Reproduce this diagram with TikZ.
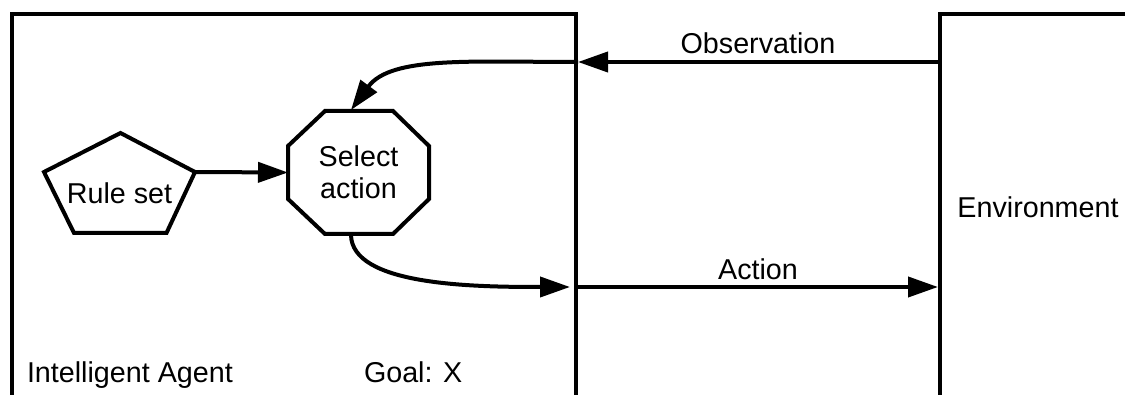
\documentclass[tikz,border=0pt]{standalone}
\usepackage{fontspec}
\setmainfont{Liberation Sans}
\usetikzlibrary{positioning, arrows.meta}

\begin{document}
\begin{tikzpicture}[
  x=0.5pt, y=0.5pt,
  >={Triangle[length=15pt,width=10pt]},
  line width=2pt,
  font=\fontsize{14.35}{16}\selectfont,
  every node/.style={inner sep=0pt},
  frame/.style={draw, rectangle, line width=2pt},
  flow/.style={->, line width=2pt}
]
  \useasboundingbox (0,0) rectangle (1125,-395);
  \clip (0,0) rectangle (1125,-395);
  % both boxes run off the page
  \node[frame, anchor=north west, minimum width=282.25pt, minimum height=204pt] (agent) at (9.5,-12) {};
  \node[frame, anchor=north west, minimum width=98pt, minimum height=193pt] (env) at (938,-12) {Environment};
  \node[anchor=base west] (agentname) at (25,-383) {Intelligent Agent};
  \node[anchor=base west] (goal) at (362,-383) {Goal: X};
  % pentagon and octagon by hand, they are wider than regular ones
  \draw (120.5,-133) -- (195,-172) coordinate (rules-e) -- (166.5,-233) -- (74,-233) -- (44,-172) -- cycle;
  \node[anchor=base] (rules) at (119.5,-204) {Rule set};
  \draw (325,-111) -- (393,-111) -- (429,-146) -- (429,-199) -- (393,-234) -- (325,-234) -- (288,-199) -- (288,-146) -- cycle;
  \node[align=center] (select) at (358.5,-172.5) {Select\\action};
  \coordinate (select-n) at (351,-110);
  \coordinate (select-s) at (351,-235);
  \coordinate (select-w) at (288,-172.5);
  \coordinate (obs-end) at (578,-62);
  \coordinate (act-end) at (570,-287);
  \coordinate (act-start) at (578,-287);
  \draw[flow] (rules-e) -- (select-w);
  \draw[flow] (env.west |- obs-end) -- (obs-end) node[midway, above=3pt] (obs) {Observation};
  \draw[flow] (agent.east |- obs-end) .. controls (470,-62) and (391,-56) .. (select-n);
  \draw[flow] (select-s) .. controls (352,-285) and (470,-287) .. (act-end);
  \draw[flow] (act-start) -- (env.west |- act-start) node[midway, above=2.5pt] (act) {Action};
\end{tikzpicture}
\end{document}
